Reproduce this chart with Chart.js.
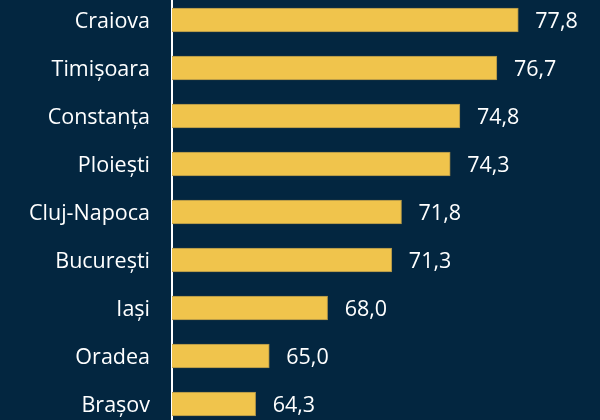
<!DOCTYPE html>
<html>
<head>
<meta charset="utf-8">
<script src="https://cdn.jsdelivr.net/npm/chart.js@4"></script>
<style>
  html, body { margin: 0; padding: 0; background: #032640; overflow: hidden; }
  #wrap { position: absolute; left: 0; top: -4px; width: 600px; height: 432px; }
</style>
</head>
<body>
<div id="wrap"><canvas id="chart"></canvas></div>
<script>
const cities = ['Craiova', 'Timișoara', 'Constanța', 'Ploiești', 'Cluj-Napoca', 'București', 'Iași', 'Oradea', 'Brașov'];
const values = [77.8, 76.7, 74.8, 74.3, 71.8, 71.3, 68.0, 65.0, 64.3];

const fontFamily = '"Open Sans", "Noto Sans", sans-serif';

// numbers to the right of each bar, with a decimal comma
const valueLabels = {
    id: 'valueLabels',
    afterDatasetsDraw(chart) {
        const ctx = chart.ctx;
        const meta = chart.getDatasetMeta(0);
        ctx.save();
        ctx.font = `21.5px ${fontFamily}`;
        ctx.fillStyle = '#ffffff';
        ctx.textAlign = 'left';
        ctx.textBaseline = 'middle';
        meta.data.forEach((bar, i) => {
            const txt = values[i].toFixed(1).replace('.', ',');
            ctx.fillText(txt, bar.x + 17, bar.y + 1.5);
        });
        ctx.restore();
    }
};

new Chart(document.getElementById('chart'), {
    type: 'bar',
    data: {
        labels: cities,
        datasets: [{
            data: values,
            backgroundColor: '#f0c44c',
            borderColor: '#a89048',
            borderWidth: 1,
            borderSkipped: 'left',
            barThickness: 24
        }]
    },
    options: {
        indexAxis: 'y',
        responsive: true,
        maintainAspectRatio: false,
        animation: false,
        layout: { padding: 0 },
        plugins: {
            legend: { display: false },
            tooltip: { enabled: false }
        },
        scales: {
            x: {
                display: false,
                min: 60,
                max: 82
            },
            y: {
                z: 1,
                afterFit(scale) {
                    scale.width = 172;
                    scale.paddingTop = 0;
                    scale.paddingBottom = 0;
                },
                grid: { display: false, drawTicks: false },
                border: { display: true, color: '#ffffff', width: 2 },
                ticks: {
                    color: '#ffffff',
                    padding: 22,
                    labelOffset: 1.5,
                    font: { family: fontFamily, size: 21.5 }
                }
            }
        }
    },
    plugins: [valueLabels]
});
</script>
</body>
</html>
